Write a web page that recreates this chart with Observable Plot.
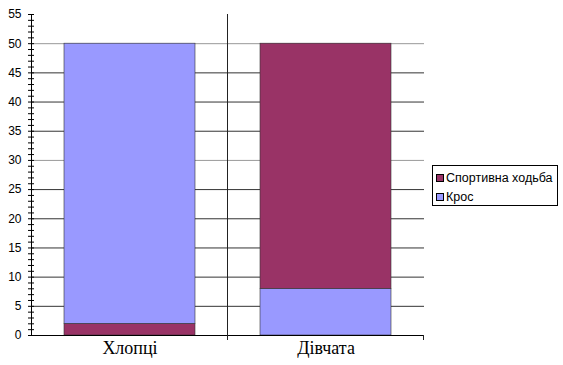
<!DOCTYPE html>
<html><head><meta charset="utf-8">
<script src="https://cdn.jsdelivr.net/npm/d3@7"></script>
<script src="https://cdn.jsdelivr.net/npm/@observablehq/plot@0.6"></script>
<style>
body{margin:0;background:#fff;}
#wrap{position:relative;width:563px;height:365px;overflow:hidden;}
.legend{position:absolute;left:432px;top:165px;width:126px;height:41px;border:1px solid #000;box-sizing:border-box;background:#fff;font:12.5px "Liberation Sans",Arial,sans-serif;color:#000;padding:2px 0 0 3px;}
.legend .row{display:flex;align-items:center;height:19px;white-space:nowrap;}
.legend .sw{width:6px;height:6px;border:1px solid #000;margin-right:2px;flex:none;}
</style></head>
<body><div id="wrap"></div>
<script>
const categories = ["Хлопці", "Дівчата"];
const seriesNames = ["Спортивна ходьба", "Крос"];
const seriesColors = ["#993366", "#9999FF"];
// stacking order (bottom to top) and values as seen in the picture
const boysSeries = ["Спортивна ходьба", "Крос"];
const boysValues = [2, 48];
const girlsSeries = ["Крос", "Спортивна ходьба"];
const girlsValues = [8, 42];
const yLabelTicks = [0, 5, 10, 15, 20, 25, 30, 35, 40, 45, 50, 55];
const yMinorTicks = d3.range(0, 56, 1);
const gridTicks = [5, 10, 15, 20, 25, 30, 35, 40, 45, 50];

const rows = [
  ...boysSeries.map((s, i) => ({category: categories[0], series: s, value: boysValues[i]})),
  ...girlsSeries.map((s, i) => ({category: categories[1], series: s, value: girlsValues[i]}))
];

const chart = Plot.plot({
  width: 563, height: 365,
  marginLeft: 31, marginRight: 139, marginTop: 14, marginBottom: 30,
  style: {fontFamily: "'Liberation Sans', Arial, sans-serif", fontSize: "12px", background: "#fff", color: "#000"},
  x: {domain: categories, paddingInner: 1/3, paddingOuter: 1/6, label: null},
  y: {domain: [0, 55], label: null},
  color: {domain: seriesNames, range: seriesColors},
  marks: [
    Plot.ruleY(gridTicks, {stroke: d => d === 50 || d === 30 ? "#999" : "#333", strokeWidth: 1}),
    Plot.barY(rows, {x: "category", y: "value", fill: "series", stroke: "#333", strokeWidth: 0.6}),
    Plot.ruleY([0], {stroke: "#000"}),
    Plot.frame({anchor: "left", stroke: "#000"}),
    Plot.axisY({ticks: yMinorTicks, tickSize: 6, dx: 3, tickFormat: () => "", label: null, stroke: "#000"}),
    Plot.axisY({ticks: yLabelTicks, tickSize: 0, tickPadding: 10, fontSize: 12, label: null}),
    Plot.axisX({tickSize: 0, tickPadding: 6, fontSize: 18, fontFamily: "'Liberation Serif', 'Times New Roman', serif", label: null})
  ]
});

// category separators drawn from the chart's own scales
const xs = chart.scale("x");
const ys = chart.scale("y");
const svg = d3.select(chart);
const gap = (xs.step - xs.bandwidth) / 2;
const sepX = xs.apply(categories[0]) + xs.bandwidth + gap;
const endX = xs.apply(categories[1]) + xs.bandwidth + gap;
const y0 = ys.apply(0);
svg.append("line").attr("x1", sepX).attr("x2", sepX).attr("y1", ys.apply(55)).attr("y2", y0 + 5).attr("stroke", "#222");
svg.append("line").attr("x1", endX).attr("x2", endX).attr("y1", y0).attr("y2", y0 + 5).attr("stroke", "#222");

const wrap = document.getElementById("wrap");
wrap.appendChild(chart);
const legend = document.createElement("div");
legend.className = "legend";
seriesNames.forEach((s, i) => {
  const r = document.createElement("div");
  r.className = "row";
  r.innerHTML = `<span class="sw" style="background:${seriesColors[i]}"></span><span>${s}</span>`;
  legend.appendChild(r);
});
wrap.appendChild(legend);
</script></body></html>
